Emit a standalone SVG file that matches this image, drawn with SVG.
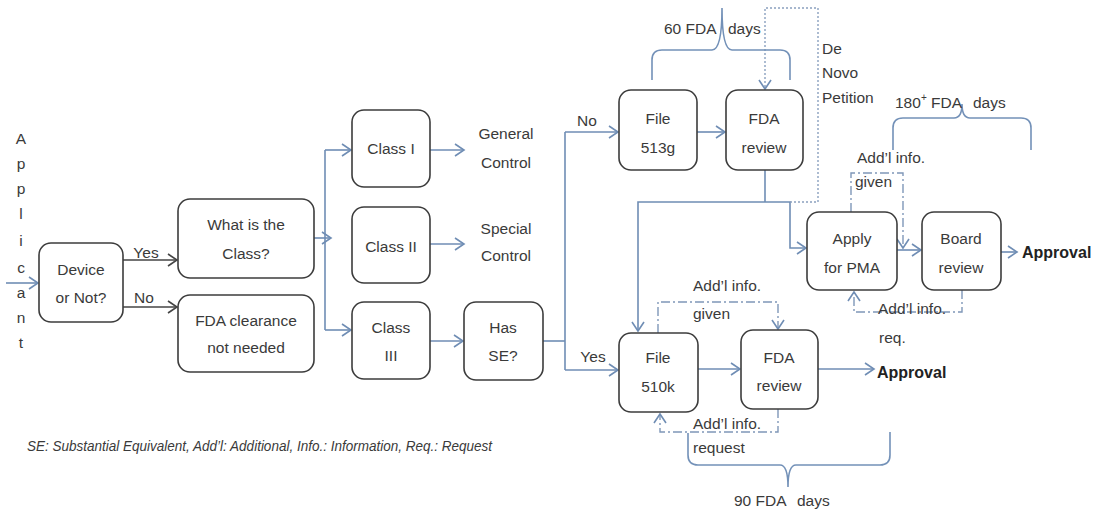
<svg xmlns="http://www.w3.org/2000/svg" width="1096" height="512" viewBox="0 0 1096 512">
<style>
.box{fill:#fff;stroke:#3c3c3c;stroke-width:1.6}
.t{font-family:"Liberation Sans",Arial,sans-serif;font-size:15.5px;fill:#3a3a3a;text-anchor:middle;dominant-baseline:central}
.tl{font-family:"Liberation Sans",Arial,sans-serif;font-size:15.5px;fill:#3a3a3a;dominant-baseline:central}
.b{font-family:"Liberation Sans",Arial,sans-serif;font-size:16px;font-weight:bold;fill:#222;dominant-baseline:central}
.c{fill:none;stroke:#6f8db4;stroke-width:1.6}
.cd{fill:none;stroke:#444;stroke-width:1.6}
.dash{fill:none;stroke:#7f97b8;stroke-width:1.4;stroke-dasharray:9 3 2 3}
.dot{fill:none;stroke:#8aa0bf;stroke-width:1.4;stroke-dasharray:2 2}
.brace{fill:none;stroke:#7391b8;stroke-width:1.6}
</style>
<defs>
<marker id="ab" markerUnits="userSpaceOnUse" markerWidth="12" markerHeight="14" refX="10" refY="7" orient="auto">
<path d="M1,1 L10,7 L1,13" fill="none" stroke="#6f8db4" stroke-width="1.6"/>
</marker>
<marker id="ad" markerUnits="userSpaceOnUse" markerWidth="12" markerHeight="14" refX="10" refY="7" orient="auto">
<path d="M1,1 L10,7 L1,13" fill="none" stroke="#444" stroke-width="1.6"/>
</marker>
</defs>
<rect width="1096" height="512" fill="#fff"/>

<g id="applicant">
<text class="t" x="21" y="138">A</text>
<text class="t" x="21" y="163">p</text>
<text class="t" x="21" y="188">p</text>
<text class="t" x="21" y="213">l</text>
<text class="t" x="21" y="240">i</text>
<text class="t" x="21" y="267">c</text>
<text class="t" x="21" y="292">a</text>
<text class="t" x="21" y="317">n</text>
<text class="t" x="21" y="342">t</text>
</g>

<g id="connectors">
<path class="c" d="M6,283 H38" marker-end="url(#ab)"/>
<path class="cd" d="M123,260 H177" marker-end="url(#ad)"/>
<path class="cd" d="M123,307 H177" marker-end="url(#ad)"/>
<path class="c" d="M314,238 H331" marker-end="url(#ab)"/>
<path class="c" d="M325,150 V330"/>
<path class="c" d="M325,150 H351" marker-end="url(#ab)"/>
<path class="c" d="M325,330 H351" marker-end="url(#ab)"/>
<path class="c" d="M430,150 H464" marker-end="url(#ab)"/>
<path class="c" d="M430,244 H464" marker-end="url(#ab)"/>
<path class="c" d="M430,341 H463" marker-end="url(#ab)"/>
<path class="c" d="M543,341 H565"/>
<path class="c" d="M565,132 V370"/>
<path class="c" d="M565,132 H618" marker-end="url(#ab)"/>
<path class="c" d="M565,370 H618" marker-end="url(#ab)"/>
<path class="c" d="M697,132 H725" marker-end="url(#ab)"/>
<path class="c" d="M765,170 V202"/>
<path class="c" d="M765,202 H638 V331" marker-end="url(#ab)"/>
<path class="c" d="M765,202 H790 V248 H806" marker-end="url(#ab)"/>
<path class="dot" d="M790,202 H818 V8 H765 V89" marker-end="url(#ab)"/>
<path class="c" d="M698,369 H740" marker-end="url(#ab)"/>
<path class="c" d="M818,369 H874" marker-end="url(#ab)"/>
<path class="dash" d="M658,333 V302 H778 V329" marker-end="url(#ab)"/>
<path class="dash" d="M778,409 V432 H660 V414" marker-end="url(#ab)"/>
<path class="c" d="M897,250 H921" marker-end="url(#ab)"/>
<path class="c" d="M1001,252 H1017" marker-end="url(#ab)"/>
<path class="dash" d="M851,212 V173 H903 V248" marker-end="url(#ab)"/>
<path class="dash" d="M962,290 V312 H854 V292" marker-end="url(#ab)"/>
<path class="brace" d="M652,80 V60 Q652,50 662,50 H712 Q722,50 722,8 Q722,50 732,50 H780 Q790,50 790,60 V80"/>
<path class="brace" d="M893,150 V128 Q893,118 903,118 H954 Q962,118 962,104 Q962,118 970,118 H1021 Q1031,118 1031,128 V150"/>
<path class="brace" d="M688,433 V455 Q688,465 698,465 H780 Q788,465 788,487 Q788,465 796,465 H880 Q890,465 890,455 V432"/>
</g>

<g id="labels">
<text class="t" x="146" y="252">Yes</text>
<text class="t" x="144" y="297">No</text>
<text class="t" x="506" y="133">General</text>
<text class="t" x="506" y="162">Control</text>
<text class="t" x="506" y="228">Special</text>
<text class="t" x="506" y="255">Control</text>
<text class="t" x="587" y="120">No</text>
<text class="t" x="593" y="356">Yes</text>
<text class="tl" x="664" y="28">60 FDA</text>
<text class="tl" x="728" y="28">days</text>
<text class="tl" x="822" y="48">De</text>
<text class="tl" x="822" y="72">Novo</text>
<text class="tl" x="822" y="97">Petition</text>
<text class="tl" x="895" y="102">180<tspan font-size="10" dy="-5">+</tspan><tspan dy="5"> FDA</tspan></text>
<text class="tl" x="973" y="102">days</text>
<text class="tl" x="857" y="157">Add’l info.</text>
<text class="tl" x="855" y="181">given</text>
<text class="tl" x="878" y="308">Add’l info.</text>
<text class="tl" x="879" y="337">req.</text>
<text class="b" x="1022" y="252">Approval</text>
<text class="tl" x="693" y="285">Add’l info.</text>
<text class="tl" x="693" y="313">given</text>
<text class="b" x="877" y="372">Approval</text>
<text class="tl" x="693" y="423">Add’l info.</text>
<text class="tl" x="693" y="447">request</text>
<text class="tl" x="734" y="500">90 FDA</text>
<text class="tl" x="797" y="500">days</text>
<text class="tl" x="27" y="445" font-style="italic" font-size="13.5" textLength="465" lengthAdjust="spacingAndGlyphs">SE: Substantial Equivalent, Add’l: Additional, Info.: Information, Req.: Request</text>
</g>

<g id="device">
<rect class="box" x="39" y="243" width="84" height="79" rx="12"/>
<text class="t" x="81" y="269">Device</text>
<text class="t" x="81" y="297">or Not?</text>
</g>
<g id="what-class">
<rect class="box" x="178" y="199" width="136" height="79" rx="12"/>
<text class="t" x="246" y="224">What is the</text>
<text class="t" x="246" y="253">Class?</text>
</g>
<g id="fda-clearance">
<rect class="box" x="178" y="295" width="136" height="77" rx="12"/>
<text class="t" x="246" y="320">FDA clearance</text>
<text class="t" x="246" y="347">not needed</text>
</g>
<g id="class1">
<rect class="box" x="352" y="110" width="78" height="77" rx="12"/>
<text class="t" x="391" y="148">Class I</text>
</g>
<g id="class2">
<rect class="box" x="352" y="207" width="78" height="76" rx="12"/>
<text class="t" x="391" y="246">Class II</text>
</g>
<g id="class3">
<rect class="box" x="352" y="302" width="78" height="77" rx="12"/>
<text class="t" x="391" y="327">Class</text>
<text class="t" x="391" y="355">III</text>
</g>
<g id="has-se">
<rect class="box" x="464" y="302" width="79" height="78" rx="12"/>
<text class="t" x="503" y="327">Has</text>
<text class="t" x="503" y="355">SE?</text>
</g>
<g id="file-513g">
<rect class="box" x="619" y="90" width="78" height="80" rx="12"/>
<text class="t" x="658" y="118">File</text>
<text class="t" x="658" y="147">513g</text>
</g>
<g id="fda-review-top">
<rect class="box" x="726" y="90" width="77" height="80" rx="12"/>
<text class="t" x="764" y="118">FDA</text>
<text class="t" x="764" y="147">review</text>
</g>
<g id="apply-pma">
<rect class="box" x="807" y="212" width="90" height="78" rx="12"/>
<text class="t" x="852" y="238">Apply</text>
<text class="t" x="852" y="267">for PMA</text>
</g>
<g id="board-review">
<rect class="box" x="922" y="212" width="79" height="78" rx="12"/>
<text class="t" x="961" y="238">Board</text>
<text class="t" x="961" y="267">review</text>
</g>
<g id="file-510k">
<rect class="box" x="619" y="333" width="79" height="79" rx="12"/>
<text class="t" x="658" y="357">File</text>
<text class="t" x="658" y="386">510k</text>
</g>
<g id="fda-review-bottom">
<rect class="box" x="741" y="330" width="77" height="79" rx="12"/>
<text class="t" x="779" y="357">FDA</text>
<text class="t" x="779" y="385">review</text>
</g>
</svg>
